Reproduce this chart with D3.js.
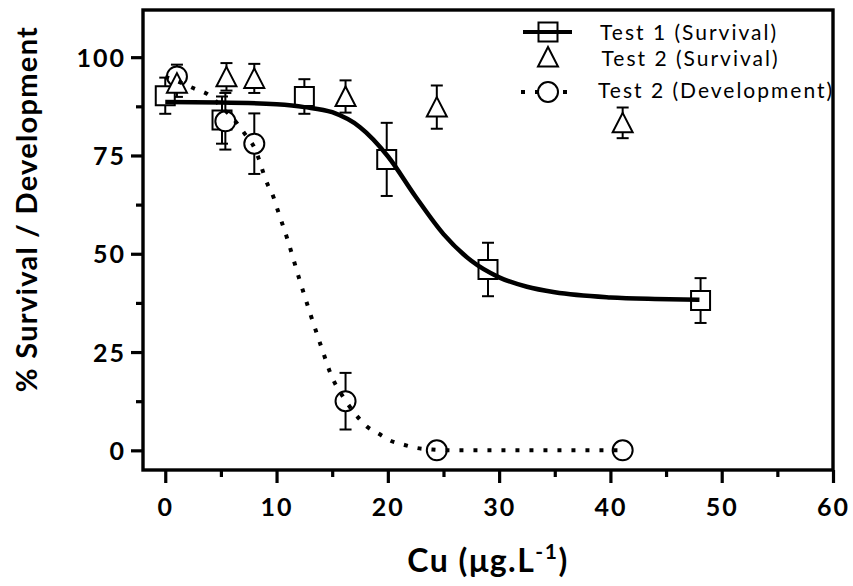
<!DOCTYPE html>
<html><head><meta charset="utf-8">
<script src="https://cdn.jsdelivr.net/npm/d3@7"></script>
<style>body{margin:0;background:#fff}svg{display:block}</style>
</head><body>
<script>
// ---- data ----
const test1X = [0, 5.1, 12.5, 19.9, 29.0, 48.1];
const test1Y = [90.2, 84.0, 90.0, 74.0, 46.0, 38.1];
const test1Err = [4.6, 6.0, 4.4, 9.3, 6.8, 5.7];

const test2SurvX = [1.05, 5.5, 8.0, 16.2, 24.4, 41.1];
const test2SurvY = [93.4, 95.0, 94.6, 90.0, 87.3, 83.3];
const test2SurvErr = [3.5, 3.5, 3.7, 4.1, 5.5, 3.9];

const test2DevX = [1.05, 5.4, 8.0, 16.2, 24.4, 41.1];
const test2DevY = [95.1, 83.7, 78.0, 12.5, 0, 0];
const test2DevErr = [3.0, 7.2, 7.7, 7.2, 0, 0];

// fitted curves
const fit1X = [0, 5, 10, 12.5, 15, 17.5, 20, 22.5, 25, 27.5, 30, 32.5, 35, 40, 44, 48];
const fit1Y = [88.6, 88.5, 88.0, 87.3, 86.0, 82.2, 74.8, 64.5, 55.0, 48.2, 44.0, 41.6, 40.2, 38.9, 38.5, 38.3];
const fit2X = [0, 1, 2.7, 3.8, 5, 6.5, 7.2, 8, 8.4, 8.8, 9.2, 9.7, 10, 11, 12, 13, 14, 15, 16, 16.5, 17.2, 18.1, 19.2, 20.2, 21.4, 22.6, 24, 26, 30, 41];
const fit2Y = [95.0, 94.0, 91.9, 90.6, 87.5, 83.0, 80.3, 77.0, 74.2, 70.7, 67.6, 64.6, 62.0, 53.5, 44.0, 35.0, 26.5, 18.5, 13.5, 11.4, 8.8, 6.1, 4.2, 2.5, 1.45, 0.6, 0.2, 0, 0, 0];

const xTicks = [0, 10, 20, 30, 40, 50, 60];
const xMinor = [5, 15, 25, 35, 45, 55];
const yTicks = [0, 25, 50, 75, 100];
const yMinor = [12.5, 37.5, 62.5, 87.5];
const legendLabels = ["Test 1 (Survival)", "Test 2 (Survival)", "Test 2 (Development)"];

const W = 853, H = 586;
const L = 143, R = 833, T = 10, B = 470;
const svg = d3.select("body").append("svg").attr("width", W).attr("height", H);
const x = d3.scaleLinear().domain([-2, 60]).range([L, R]);
const y = d3.scaleLinear().domain([-5, 112]).range([B, T]);
const FONT = "Lato, 'Open Sans', sans-serif";

// axes
const ax = svg.append("g").attr("transform", `translate(0,${B})`)
  .call(d3.axisBottom(x).tickValues(xTicks).tickSize(13).tickPadding(15).tickFormat(d3.format("d")));
const axm = svg.append("g").attr("transform", `translate(0,${B})`)
  .call(d3.axisBottom(x).tickValues(xMinor).tickSize(7).tickFormat(""));
const ay = svg.append("g").attr("transform", `translate(${L},0)`)
  .call(d3.axisLeft(y).tickValues(yTicks).tickSize(12).tickPadding(5).tickFormat(d3.format("d")));
const aym = svg.append("g").attr("transform", `translate(${L},0)`)
  .call(d3.axisLeft(y).tickValues(yMinor).tickSize(7).tickFormat(""));
[ax, axm, ay, aym].forEach(g => {
  g.select(".domain").remove();
  g.selectAll(".tick line").attr("stroke", "#000").attr("stroke-width", 3.2);
  g.selectAll(".tick text").attr("font-family", FONT).attr("font-weight", "bold")
    .attr("font-size", 25).attr("fill", "#000").attr("letter-spacing", 2);
});
ay.selectAll(".tick text").attr("dy", "0.36em");

// frame
svg.append("rect").attr("x", L).attr("y", T).attr("width", R - L).attr("height", B - T)
  .attr("fill", "none").attr("stroke", "#000").attr("stroke-width", 3.4);

// titles
svg.append("text").attr("x", 488).attr("y", 572).attr("text-anchor", "middle")
  .attr("font-family", FONT).attr("font-weight", "bold").attr("font-size", 32).attr("letter-spacing", 1.5)
  .html('Cu (\u03bcg.L<tspan dy="-13" font-size="21">-1</tspan><tspan dy="13">)</tspan>');
svg.append("text").attr("transform", "translate(37,209) rotate(-90)").attr("text-anchor", "middle")
  .attr("font-family", FONT).attr("font-weight", "bold").attr("font-size", 29).attr("letter-spacing", 1.3)
  .text("% Survival / Development");

// error bars
function errBars(xs, ys, es) {
  const g = svg.append("g").attr("stroke", "#000").attr("stroke-width", 2).attr("fill", "none");
  xs.forEach((xv, i) => {
    if (!es[i]) return;
    const cx = x(xv), t = y(ys[i] + es[i]), b = y(ys[i] - es[i]);
    g.append("line").attr("x1", cx).attr("x2", cx).attr("y1", t).attr("y2", b);
    g.append("line").attr("x1", cx - 6).attr("x2", cx + 6).attr("y1", t).attr("y2", t);
    g.append("line").attr("x1", cx - 6).attr("x2", cx + 6).attr("y1", b).attr("y2", b);
  });
}
errBars(test1X, test1Y, test1Err);
errBars(test2DevX, test2DevY, test2DevErr);
errBars(test2SurvX, test2SurvY, test2SurvErr);

const sq = "M-9.5,-9.5H9.5V9.5H-9.5Z";
const tri = "M0,-10L10,9.5H-10Z";
function markers(xs, ys, shape) {
  const g = svg.append("g");
  xs.forEach((xv, i) => {
    const cx = x(xv), cy = y(ys[i]);
    if (shape === "circle") g.append("circle").attr("cx", cx).attr("cy", cy).attr("r", 10)
      .attr("fill", "#fff").attr("stroke", "#000").attr("stroke-width", 2);
    else g.append("path").attr("d", shape).attr("transform", `translate(${cx},${cy})`)
      .attr("fill", "#fff").attr("stroke", "#000").attr("stroke-width", 2);
  });
}
markers(test1X, test1Y, sq);
markers(test2DevX, test2DevY, "circle");
markers(test2SurvX, test2SurvY, tri);

// curves
const line = d3.line().x(d => x(d[0])).y(d => y(d[1])).curve(d3.curveMonotoneX);
svg.append("path").attr("d", line(fit1X.map((v, i) => [v, fit1Y[i]])))
  .attr("fill", "none").attr("stroke", "#000").attr("stroke-width", 4.5);
svg.append("path").attr("d", line(fit2X.map((v, i) => [v, fit2Y[i]])))
  .attr("fill", "none").attr("stroke", "#000").attr("stroke-width", 4).attr("stroke-dasharray", "4 10");

// legend
const lg = svg.append("g");
lg.append("line").attr("x1", 523).attr("x2", 572).attr("y1", 32).attr("y2", 32)
  .attr("stroke", "#000").attr("stroke-width", 4);
lg.append("path").attr("d", sq).attr("transform", "translate(548,32)")
  .attr("fill", "none").attr("stroke", "#000").attr("stroke-width", 2);
lg.append("path").attr("d", tri).attr("transform", "translate(548,57)")
  .attr("fill", "#fff").attr("stroke", "#000").attr("stroke-width", 2);
lg.append("line").attr("x1", 521).attr("x2", 576).attr("y1", 92).attr("y2", 92)
  .attr("stroke", "#000").attr("stroke-width", 4).attr("stroke-dasharray", "4 10");
lg.append("circle").attr("cx", 548).attr("cy", 92).attr("r", 10)
  .attr("fill", "#fff").attr("stroke", "#000").attr("stroke-width", 2);
const ly = [40, 65.5, 98], lx = [600, 601.5, 598];
legendLabels.forEach((t, i) => {
  lg.append("text").attr("x", lx[i]).attr("y", ly[i]).attr("font-family", FONT)
    .attr("font-size", 21).attr("letter-spacing", 2).attr("fill", "#000").text(t);
});
</script>
</body></html>
